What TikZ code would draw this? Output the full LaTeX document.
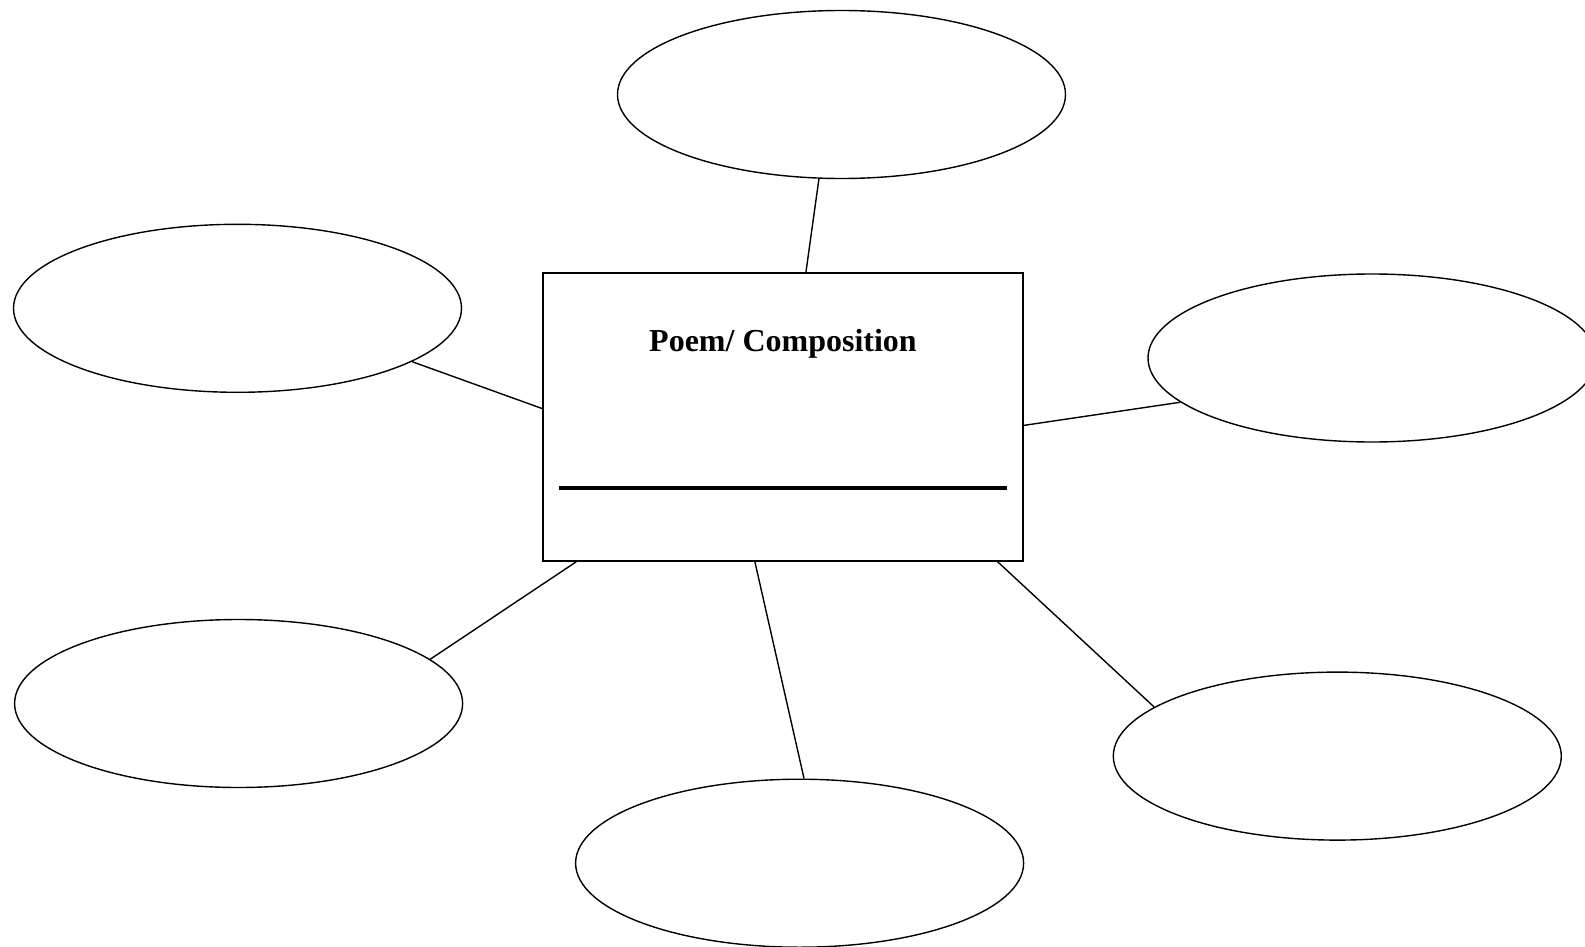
\documentclass[tikz,border=0pt]{standalone}
\usepackage{fontspec}
\setmainfont{Liberation Serif}
\usetikzlibrary{shapes.geometric}
\begin{document}
\begin{tikzpicture}[x=1pt,y=-1pt,
  bubble/.style={draw,ellipse,line width=1.4pt,minimum width=448pt,minimum height=168pt,inner sep=0pt},
  mainbox/.style={draw,rectangle,line width=1.4pt,minimum width=480pt,minimum height=288pt,inner sep=0pt},
  link/.style={line width=1.4pt}]
\useasboundingbox (0,0) rectangle (1585,947);
\node[mainbox] (box) at (783,417) {};
\node[anchor=base,font=\bfseries\fontsize{32}{36}\selectfont] (title) at (783,351) {Poem/ Composition};
\coordinate (ul) at (559,488);
\coordinate (ur) at (1007,488);
\draw[line width=3.5pt] (ul) -- (ur);
\node[bubble] (top) at (841.5,94.5) {};
\node[bubble] (lu) at (237.5,308.3) {};
\node[bubble] (ru) at (1372,358) {};
\node[bubble] (ll) at (238.6,703.5) {};
\node[bubble] (bot) at (799.6,863.2) {};
\node[bubble] (rl) at (1337.3,756.1) {};
\draw[link] (top.255) -- (box.81.4);
\draw[link] (lu.-17.5) -- (box.178.9);
\draw[link] (ru.193.5) -- (box.-2.5);
\draw[link] (ll.13) -- (box.215.2);
\draw[link] (bot.87.3) -- (box.259.5);
\draw[link] (rl.165.1) -- (box.-34.4);
\end{tikzpicture}
\end{document}
